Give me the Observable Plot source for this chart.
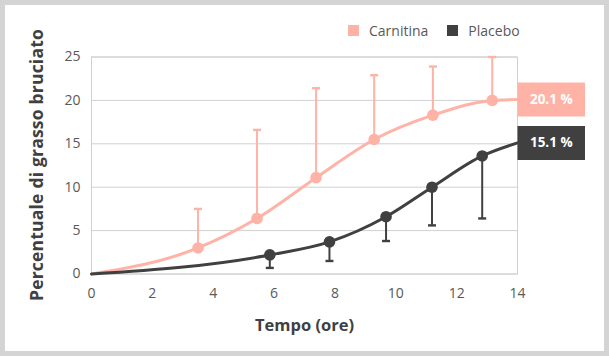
<!DOCTYPE html>
<html>
<head>
<meta charset="utf-8">
<script src="https://cdn.jsdelivr.net/npm/d3@7"></script>
<script src="https://cdn.jsdelivr.net/npm/@observablehq/plot@0.6"></script>
<style>
  html, body { margin: 0; padding: 0; background: #fff; }
  #wrap { position: relative; width: 609px; height: 356px; background: #d4d4d4; font-family: "Open Sans", sans-serif; overflow: hidden; }
  #inner { position: absolute; left: 5px; top: 5px; right: 5px; bottom: 5px; background: #fff; }
  #chart { position: absolute; left: 0; top: 0; }
  #legend { position: absolute; left: 348px; top: 21px; display: flex; align-items: center; font-size: 14px; color: #595959; }
  #legend .sw { width: 11px; height: 11px; display: inline-block; margin-right: 10px; }
  #legend .item { display: flex; align-items: center; margin-right: 19px; }
  .ttl { position: absolute; font-weight: 700; color: #404040; white-space: nowrap; }
  #xt { left: 0; width: 609px; text-align: center; top: 313px; font-size: 16.5px; }
  #yt { left: 36px; top: 165px; font-size: 17.5px; letter-spacing: 0.2px; transform: translate(-50%, -50%) rotate(-90deg); }
</style>
</head>
<body>
<div id="wrap">
  <div id="inner"></div>
  <div id="chart"></div>
  <div id="legend"></div>
  <div class="ttl" id="xt"></div>
  <div class="ttl" id="yt"></div>
</div>
<script>
// Series names and colors
const seriesNames = ["Carnitina", "Placebo"];
const seriesColors = ["#ffb3a7", "#404040"];

// Measured points (x = hours, y = % fat burned) with error bar ends
const carnitinaX = [3.5, 5.44, 7.38, 9.29, 11.22, 13.17];
const carnitinaY = [3.0, 6.4, 11.1, 15.5, 18.3, 20.0];
const carnitinaErr = [7.5, 16.6, 21.4, 22.9, 23.9, 25.0];

const placeboX = [5.86, 7.82, 9.68, 11.19, 12.84];
const placeboY = [2.2, 3.7, 6.6, 10.0, 13.6];
const placeboErr = [0.7, 1.5, 3.8, 5.6, 6.4];

// Fitted curve start/end values
const curveStartX = 0, curveEndX = 14;
const carnitinaEnd = 20.1;
const placeboEnd = 15.1;
const endLabels = ["20.1 %", "15.1 %"];

// Axis ticks and titles
const xTicks = [0, 2, 4, 6, 8, 10, 12, 14];
const yTicks = [0, 5, 10, 15, 20, 25];
const xTitle = "Tempo (ore)";
const yTitle = "Percentuale di grasso bruciato";

// Build tables
const points = [
  ...carnitinaX.map((x, i) => ({s: seriesNames[0], x, y: carnitinaY[i], e: carnitinaErr[i]})),
  ...placeboX.map((x, i) => ({s: seriesNames[1], x, y: placeboY[i], e: placeboErr[i]}))
];
const lineC = [{x: curveStartX, y: 0}, ...carnitinaX.map((x, i) => ({x, y: carnitinaY[i]})), {x: curveEndX, y: carnitinaEnd}];
const lineP = [{x: curveStartX, y: 0}, ...placeboX.map((x, i) => ({x, y: placeboY[i]})), {x: curveEndX, y: placeboEnd}];
const ends = [
  {s: seriesNames[0], x: curveEndX, y: carnitinaEnd, label: endLabels[0]},
  {s: seriesNames[1], x: curveEndX, y: placeboEnd, label: endLabels[1]}
];

const color = {domain: seriesNames, range: seriesColors};
const boxSymbol = {draw(ctx) { ctx.rect(-33.75, -17, 67.5, 34); }};
const capSymbol = {draw(ctx) { ctx.rect(-4, -1.2, 8, 2.4); }};

const chart = Plot.plot({
  width: 609,
  height: 356,
  marginLeft: 91,
  marginRight: 92,
  marginTop: 56.5,
  marginBottom: 82.5,
  style: {background: "transparent", fontFamily: "Open Sans, sans-serif"},
  x: {domain: [0, 14], ticks: xTicks},
  y: {domain: [0, 25], ticks: yTicks},
  color,
  marks: [
    Plot.gridY(yTicks, {stroke: "#d0d0d0", strokeOpacity: 1}),
    Plot.frame({stroke: "#d0d0d0"}),
    Plot.axisX({ticks: xTicks, tickSize: 0, tickPadding: 14, fontSize: 14, color: "#595959", label: null}),
    Plot.axisY({ticks: yTicks, tickSize: 0, tickPadding: 11, fontSize: 14, color: "#595959", label: null}),
    Plot.ruleX(points, {x: "x", y1: "y", y2: "e", stroke: "s", strokeWidth: 2}),
    Plot.dot(points, {x: "x", y: "e", symbol: capSymbol, fill: "s", stroke: "none", r: 4}),
    Plot.line(lineC, {x: "x", y: "y", stroke: seriesColors[0], strokeWidth: 3, curve: "monotone-x"}),
    Plot.line(lineP, {x: "x", y: "y", stroke: seriesColors[1], strokeWidth: 3, curve: "monotone-x"}),
    Plot.dot(points, {x: "x", y: "y", fill: "s", r: 5.8}),
    Plot.dot(ends, {x: "x", y: "y", symbol: boxSymbol, fill: "s", stroke: "none", r: 10, dx: 33.75}),
    Plot.text(ends, {x: "x", y: "y", text: "label", fill: "white", fontWeight: "bold", fontSize: 13.5, dx: 33.75, textAnchor: "middle"})
  ]
});
document.getElementById("chart").appendChild(chart);

// Legend
const lg = document.getElementById("legend");
seriesNames.forEach((n, i) => {
  const it = document.createElement("div");
  it.className = "item";
  it.innerHTML = `<span class="sw" style="background:${seriesColors[i]}"></span><span>${n}</span>`;
  lg.appendChild(it);
});
document.getElementById("xt").textContent = xTitle;
document.getElementById("yt").textContent = yTitle;
</script>
</body>
</html>
